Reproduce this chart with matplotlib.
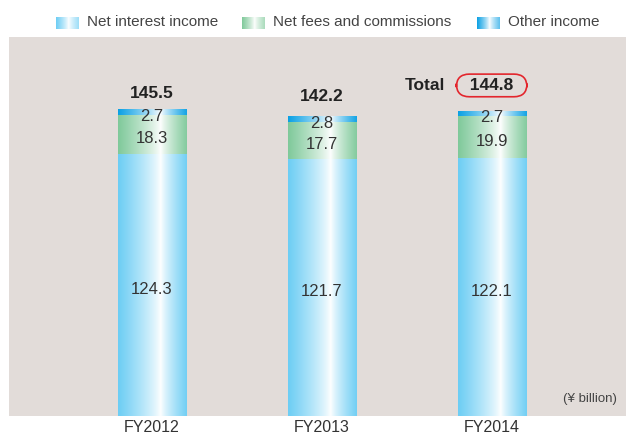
import numpy as np
import matplotlib.pyplot as plt
from matplotlib.colors import to_rgb

years = ['FY2012', 'FY2013', 'FY2014']
net_interest = [124.3, 121.7, 122.1]
net_fees = [18.3, 17.7, 19.9]
other_income = [2.7, 2.8, 2.7]
totals = [145.5, 142.2, 144.8]
series_names = ['Net interest income', 'Net fees and commissions', 'Other income']

colors = ['#6ccdf4', '#7fc99a', '#0aa0e4']
bg = '#e2dcd9'
txt = '#333333'
plt.rcParams['font.family'] = ['Liberation Sans', 'DejaVu Sans']


def gradient(color, n=200, peak=0.62, right=0.95):
    # horizontal shading: colour -> white -> colour
    c = np.array(to_rgb(color))
    t = np.linspace(0, 1, n)
    w = np.where(t < peak, 1 - t / peak, right * (t - peak) / (1 - peak))
    w = np.clip(w, 0, 1) ** 0.8
    img = 1 - w[:, None] * (1 - c[None, :])
    return img[None, :, :]


fig = plt.figure(figsize=(6.26, 4.37), dpi=100)
ax = fig.add_axes([9 / 626, 21 / 437, 617 / 626, 379 / 437])
ax.set_facecolor(bg)
x = np.arange(len(years))
width = 0.4

bottom = np.zeros(len(years))
for vals, col in zip([net_interest, net_fees, other_income], colors):
    bars = ax.bar(x, vals, width, bottom=bottom, color='none', edgecolor='none')
    for b in bars:
        x0, y0 = b.get_x(), b.get_y()
        im = ax.imshow(gradient(col), extent=[x0, x0 + b.get_width(), y0, y0 + b.get_height()],
                       aspect='auto', interpolation='bilinear', zorder=2)
        im.set_clip_path(b)
    for xi, bi, v in zip(x, bottom, vals):
        ax.annotate(f'{v}', (xi, bi + v / 2), xytext=(0, -3), textcoords='offset points',
                    ha='center', va='center', fontsize=12, color=txt, zorder=3)
    bottom = bottom + np.array(vals)

offsets = [11, 14, 18]
for xi, t, off in zip(x[:2], totals[:2], offsets[:2]):
    ax.annotate(f'{t}', (xi, t), xytext=(0, off), textcoords='offset points',
                ha='center', va='center', fontsize=12.5, fontweight='bold', color='#222222')
ax.annotate(f'  {totals[2]}  ', (x[2], totals[2]), xytext=(0, offsets[2]), textcoords='offset points',
            ha='center', va='center', fontsize=12.5, fontweight='bold', color='#222222',
            bbox=dict(boxstyle='round,pad=0.22,rounding_size=0.75', fc='none', ec='#e3262d', lw=1.2))
ax.annotate('Total', (x[2], totals[2]), xytext=(-48, offsets[2]), textcoords='offset points',
            ha='center', va='center', fontsize=12.5, fontweight='bold', color='#222222')

ax.text(0.985, 0.045, '(¥ billion)', transform=ax.transAxes, ha='right', va='center',
        fontsize=9.5, color='#444444')

ax.set_xlim(-0.838, 2.79)
ax.set_ylim(0, 179.6)
ax.set_xticks(x)
ax.set_xticklabels(years, fontsize=11.5, color=txt)
ax.set_yticks([])
ax.tick_params(axis='x', length=0, pad=3)
for s in ax.spines.values():
    s.set_visible(False)

# legend with shaded markers
leg_x = [56, 242, 477]
for lx, name, col in zip(leg_x, series_names, colors):
    lax = fig.add_axes([lx / 626, (437 - 29) / 437, 23 / 626, 12 / 437])
    lax.imshow(gradient(col, peak=0.55, right=0.6), aspect='auto', interpolation='bilinear')
    lax.axis('off')
    fig.text((lx + 31) / 626, (437 - 22.5) / 437, name, ha='left', va='center',
             fontsize=11, color='#444444')

fig.savefig('out.png', dpi=100)
